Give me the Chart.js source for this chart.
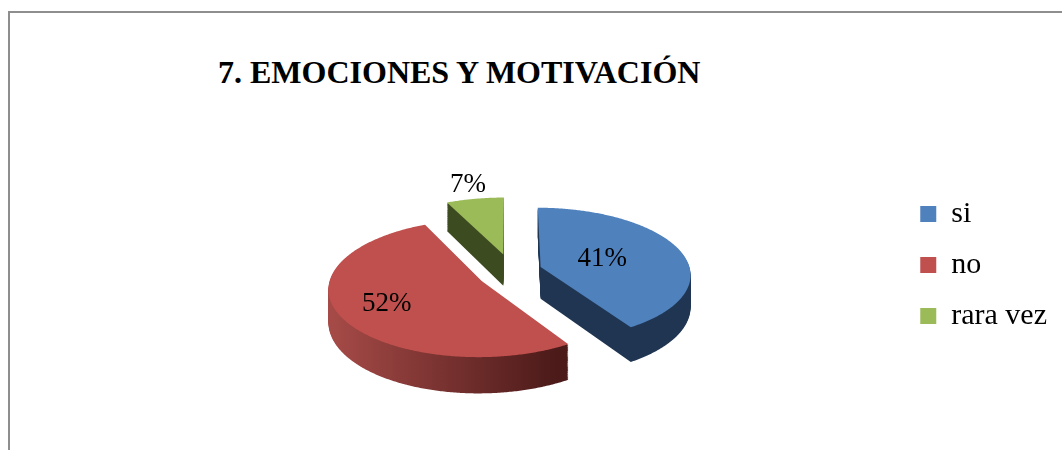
<!DOCTYPE html>
<html>
<head>
<meta charset="utf-8">
<title>7. EMOCIONES Y MOTIVACIÓN</title>
<script src="https://cdn.jsdelivr.net/npm/chart.js@4.4.1/dist/chart.umd.min.js"></script>
<style>
  html, body { margin: 0; padding: 0; background: #fff; }
  body { width: 1062px; height: 450px; position: relative; overflow: hidden; }
  #frame { position: absolute; left: 8px; top: 11px; right: -4px; bottom: -4px;
           border-left: 2px solid #8e8e8e; border-top: 2px solid #8e8e8e; }
  #title { position: absolute; left: 218px; top: 56px; color: #000; white-space: nowrap;
           font: bold 32px "Liberation Serif", "Times New Roman", serif; line-height: 32px; }
  #chart { position: absolute; left: 0; top: 0; }
</style>
</head>
<body>
<div id="frame"></div>
<div id="title">7. EMOCIONES Y MOTIVACIÓN</div>
<canvas id="chart" width="1062" height="450"></canvas>
<script>
const labels = ['si', 'no', 'rara vez'];
const values = [41, 52, 7];

const topColors = ['#4f81bd', '#c0504d', '#9bbb59'];
const sideColors = [['#1f3552', '#1f3552'], ['#a54a47', '#4b1a19'], ['#3d4b21', '#3d4b21']];
const labelRadius = [0.44, 0.68, 1.28]; // where each % label sits, share of the radius

const TILT = 0.442;          // vertical squash of the pie
const PERSPECTIVE = 0.00069; // front of the pie drawn bigger than the back
const DEPTH = 32;            // thickness of the side wall
const EXPLODE = 32;          // how far each slice is pulled out
const EXPLODE_Y = 1.3;

// flat pie point (dx, dy from centre) -> screen, h = drop below the top face
function project(cx, cy, dx, dy, h) {
  const s = 1 / (1 - dy * PERSPECTIVE);
  return [cx + dx * s, cy + (dy * TILT + h) * s];
}

function slicePath(ctx, arc, h) {
  const mid = (arc.startAngle + arc.endAngle) / 2;
  const ax = Math.cos(mid) * EXPLODE;
  const ay = Math.sin(mid) * EXPLODE * EXPLODE_Y;
  ctx.beginPath();
  let p = project(arc.x, arc.y, ax, ay, h);
  ctx.moveTo(p[0], p[1]);
  const steps = Math.max(8, Math.ceil((arc.endAngle - arc.startAngle) / 0.01));
  for (let k = 0; k <= steps; k++) {
    const a = arc.startAngle + (arc.endAngle - arc.startAngle) * k / steps;
    p = project(arc.x, arc.y, ax + Math.cos(a) * arc.outerRadius, ay + Math.sin(a) * arc.outerRadius, h);
    ctx.lineTo(p[0], p[1]);
  }
  ctx.closePath();
}

// draws the tilted, exploded 3d look from the arcs chart.js laid out
const pie3d = {
  id: 'pie3d',
  beforeDatasetsDraw(chart) {
    const ctx = chart.ctx;
    const arcs = chart.getDatasetMeta(0).data;

    // side walls, stacked from the bottom up
    for (let d = DEPTH; d > 0; d--) {
      arcs.forEach((arc, i) => {
        const mid = (arc.startAngle + arc.endAngle) / 2;
        const x0 = arc.x + Math.cos(mid) * EXPLODE;
        const g = ctx.createLinearGradient(x0 - arc.outerRadius, 0, x0 + arc.outerRadius * 0.5, 0);
        g.addColorStop(0, sideColors[i][0]);
        g.addColorStop(1, sideColors[i][1]);
        ctx.fillStyle = g;
        slicePath(ctx, arc, d);
        ctx.fill();
      });
    }

    // top faces
    arcs.forEach(arc => {
      ctx.fillStyle = arc.options.backgroundColor;
      slicePath(ctx, arc, 0);
      ctx.fill();
    });

    // percentage labels
    const total = values.reduce((a, b) => a + b, 0);
    ctx.save();
    ctx.font = '27px "Liberation Serif", "Times New Roman", serif';
    ctx.fillStyle = '#000';
    ctx.textAlign = 'center';
    ctx.textBaseline = 'middle';
    arcs.forEach((arc, i) => {
      const mid = (arc.startAngle + arc.endAngle) / 2;
      const r = arc.outerRadius * labelRadius[i];
      const p = project(arc.x, arc.y,
        Math.cos(mid) * (EXPLODE + r),
        Math.sin(mid) * (EXPLODE * EXPLODE_Y + r), 0);
      ctx.fillText(Math.round(values[i] / total * 100) + '%', p[0], p[1]);
    });
    ctx.restore();

    return false;
  }
};

new Chart(document.getElementById('chart'), {
  type: 'pie',
  data: {
    labels: labels,
    datasets: [{
      data: values,
      backgroundColor: topColors,
      borderWidth: 0,
      offset: 0,
      hoverOffset: 0
    }]
  },
  options: {
    responsive: false,
    animation: false,
    events: [],
    radius: 150,
    layout: {
      padding: { left: 121, right: 5, top: 178, bottom: 84 }
    },
    plugins: {
      tooltip: { enabled: false },
      title: { display: false },
      legend: {
        position: 'right',
        align: 'start',
        labels: {
          boxWidth: 16,
          boxHeight: 16,
          padding: 21,
          color: '#000',
          font: { family: '"Liberation Serif", "Times New Roman", serif', size: 30 }
        }
      }
    }
  },
  plugins: [pie3d]
});
</script>
</body>
</html>
